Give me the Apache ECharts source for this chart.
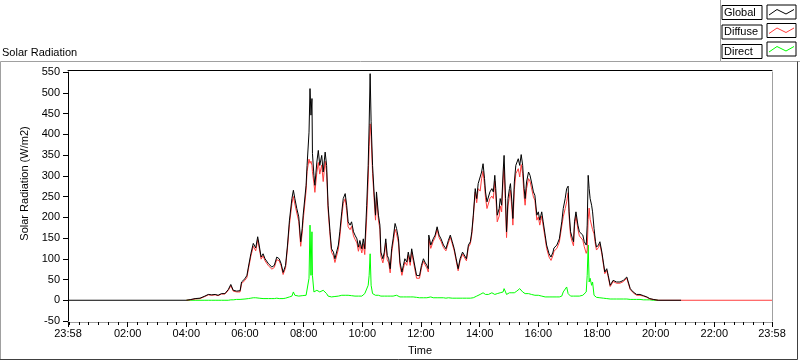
<!DOCTYPE html>
<html><head><meta charset="utf-8">
<script src="https://cdn.jsdelivr.net/npm/echarts@6.0.0/dist/echarts.min.js"></script>
<style>html,body{margin:0;padding:0;background:#fff}#c{width:800px;height:361px}</style>
</head><body><div id="c"></div>
<script>
// time in minutes from 00:00 (23:58 of the previous day = -2)
const times = [
-2,240,248,258,268,278,285,292,299,305,
312,319,326,331,336,343,350,353,360,364,
367,372,377,382,386,389,393,397,401,408,
415,420,425,430,434,438,443,447,451,456,
459,462,466,470,474,477,479,485,487,491,
493,495,497,498,501,503,507,510,513,517,
520,524,527,530,534,537,541,544,548,551,
554,558,561,565,568,571,575,578,582,585,
589,592,595,599,602,605,609,612,614,616,
618,621,624,627,629,633,636,638,642,645,
648,651,654,657,660,663,667,670,674,677,
681,684,687,691,694,698,701,704,708,711,
717,721,725,728,732,735,736,740,745,749,
753,757,761,766,771,776,780,784,788,792,
796,800,805,809,813,817,821,824,827,831,
834,837,841,844,847,850,852,855,858,861,
865,868,871,873,876,880,882,885,888,890,
893,895,898,901,903,906,908,911,914,916,
919,922,925,928,931,933,936,940,943,946,
950,953,957,960,963,967,970,974,977,982,
986,990,992,998,1003,1008,1011,1015,1018,1021,
1023,1026,1030,1032,1034,1037,1041,1044,1047,1051,
1054,1058,1060,1062,1064,1066,1069,1071,1074,1077,
1079,1083,1086,1090,1093,1096,1100,1103,1107,1110,
1113,1120,1127,1134,1141,1144,1148,1154,1161,1168,
1175,1182,1188,1195,1205,1252,1438
];
const globalVals = [
0,0,1.5,4,5,10,14,13,14,12,
16,16,26,38,24,22,23,44,52,60,
80,112,137,126,153,133,104,112,100,88,
80,84,104,100,88,67,84,133,193,245,
265,245,221,201,141,173,205,277,325,405,
510,446,486,354,301,277,333,361,325,349,
309,357,325,229,165,124,116,100,104,133,
165,213,245,257,229,189,181,189,165,157,
148,128,144,124,148,124,229,325,422,546,
430,325,261,205,261,205,181,116,100,116,
148,108,100,76,124,148,185,173,148,92,
68,84,100,92,116,92,124,104,100,60,
59,84,100,92,84,76,157,133,148,157,
177,157,148,133,124,144,157,141,124,100,
76,100,116,112,100,133,141,165,205,269,
245,281,277,309,329,293,261,237,233,261,
269,261,301,269,205,221,245,229,309,349,
245,165,245,269,281,237,197,285,325,325,
341,325,351,325,269,245,285,309,301,285,
261,253,205,213,193,213,189,157,133,112,
104,116,126,133,148,189,221,245,269,275,
213,165,148,141,189,213,181,165,165,157,
141,133,181,301,269,245,229,213,173,141,
128,133,141,116,92,68,76,60,36,40,
48,44,44,48,56,44,28,20,14,14,
11,8,4,2,0,0,null
];
const diffuseVals = [
null,0,1,3,4,9,13,12,13,11,
15,15,24,35,22,20,20,40,48,55,
75,106,130,119,146,127,99,107,95,83,
75,79,98,95,83,62,78,126,183,233,
250,232,210,190,130,162,192,264,310,340,
330,335,325,310,282,260,308,332,304,326,
286,335,308,218,156,116,107,91,94,123,
153,201,233,245,217,177,170,178,155,147,
138,118,134,114,136,110,200,290,370,425,
395,305,247,193,249,193,171,106,90,106,
138,98,90,66,114,138,171,161,138,84,
60,76,92,84,108,84,116,96,92,53,
53,78,94,86,78,68,147,125,142,151,
171,151,142,127,119,138,152,136,119,95,
71,95,111,107,95,128,136,159,199,261,
235,269,263,293,311,277,247,221,219,245,
251,245,287,253,189,203,227,213,289,321,
225,151,227,251,265,219,181,267,305,303,
317,297,327,305,251,229,269,293,287,271,
249,241,193,201,181,203,179,149,125,104,
96,108,118,125,140,179,201,221,237,259,
201,155,138,131,179,203,171,155,155,145,
129,113,121,195,222,195,192,170,160,133,
121,127,135,111,87,64,72,56,33,37,
45,41,41,45,53,41,26,18,12,12,
10,7,3,2,0,0,0
];
const directVals = [
null,0,0,0,0,0,0,0,0,0,
0,0,0,1,1,2,2,3,3,4,
4,5,6,6,6,5,4,4,4,4,
4,4,5,4,4,4,5,6,8,10,
20,12,10,10,10,11,12,12,14,53,
181,60,165,60,20,16,24,28,20,22,
24,20,16,10,8,8,9,9,10,10,
12,12,12,12,12,12,11,11,10,10,
10,10,10,10,12,16,16,36,60,112,
36,16,14,12,12,12,10,10,10,10,
10,10,10,10,10,10,14,12,10,8,
8,8,8,8,8,8,8,8,8,7,
6,6,6,6,6,8,10,8,6,6,
6,6,6,6,5,6,5,5,5,5,
5,5,5,5,5,5,5,6,6,8,
10,12,14,16,18,16,14,16,14,16,
18,16,14,16,16,18,18,16,20,28,
20,14,18,18,16,18,16,18,20,22,
24,28,24,20,18,16,16,16,14,14,
12,12,12,12,12,10,10,8,8,8,
8,8,8,8,8,10,20,24,32,16,
12,10,10,10,10,10,10,10,10,12,
12,20,60,133,44,53,36,44,12,8,
7,6,6,5,5,4,4,4,3,3,
3,3,3,3,3,3,2,2,2,2,
1,1,1,0,0,null,null
];
const xTickValues = [-2,120,240,360,480,600,720,840,960,1080,1200,1320,1438];
const xTickLabels = ['23:58','02:00','04:00','06:00','08:00','10:00','12:00','14:00','16:00','18:00','20:00','22:00','23:58'];
const minorTickValues = [];
for (let m = 0; m < 1440; m += 20) minorTickValues.push(m);
const seriesNames = ['Global','Diffuse','Direct'];
const seriesColors = {Global:'#000000', Diffuse:'#ff3c3c', Direct:'#00ff00'};

const FONT = 'Liberation Sans';
const zip = vals => times.map((t, i) => [t, vals[i]]);
const lineSeries = (name, vals) => ({
  name, type:'line', data: zip(vals), symbol:'none', showSymbol:false,
  xAxisIndex:0, yAxisIndex:0, connectNulls:false,
  lineStyle:{color:seriesColors[name], width:1}, itemStyle:{color:seriesColors[name]},
  emphasis:{disabled:true}, animation:false
});

// legend sample boxes (frame + zig-zag line sample in the series colour)
const legTop = 5, legPitch = 18.5, boxX = 767;
const legendSamples = [];
seriesNames.forEach((n, i) => {
  const y0 = legTop + i * legPitch;
  legendSamples.push({type:'rect', silent:true, z:100,
    shape:{x:boxX, y:y0, width:29, height:14},
    style:{fill:'#fff', stroke:'#000', lineWidth:1}});
  legendSamples.push({type:'polyline', silent:true, z:101,
    shape:{points:[[boxX+2, y0+10],[boxX+10, y0+4.5],[boxX+19, y0+9],[boxX+27, y0+4.5]]},
    style:{fill:null, stroke:seriesColors[n], lineWidth:1}});
});

const chart = echarts.init(document.getElementById('c'), null, {renderer:'canvas'});
chart.setOption({
  animation:false,
  backgroundColor:'#ffffff',
  title:{text:'Solar Radiation', left:2, top:47, padding:0,
    textStyle:{fontSize:11, fontWeight:'normal', fontFamily:FONT, color:'#000'}},
  grid:{left:68, right:28, top:72, bottom:40, containLabel:false},
  legend:{
    data:seriesNames, orient:'vertical', right:4, top:legTop, padding:0,
    itemGap:4.5, itemWidth:29, itemHeight:14, align:'right', selectedMode:false,
    icon:'rect', itemStyle:{opacity:0},
    formatter: n => '{b|' + n + '}',
    textStyle:{rich:{b:{width:36, height:12, lineHeight:12, padding:[1,2,1,2],
      borderColor:'#000', borderWidth:1, align:'left', fontSize:11, fontFamily:FONT, color:'#000'}}}
  },
  xAxis:[
    {type:'value', min:-2, max:1438, position:'bottom', offset:1,
      axisLine:{show:true, onZero:false, lineStyle:{color:'#a0a0a0'}},
      axisTick:{show:true, customValues:xTickValues, length:5, lineStyle:{color:'#000'}},
      axisLabel:{show:true, customValues:xTickValues, margin:6, fontSize:11, fontFamily:FONT, color:'#000',
        formatter: v => { const k = xTickValues.indexOf(v); return k >= 0 ? xTickLabels[k] : ''; }},
      splitLine:{show:false},
      name:'Time', nameLocation:'middle', nameGap:23,
      nameTextStyle:{fontSize:11, fontFamily:FONT, color:'#000'}},
    {type:'value', min:-2, max:1438, position:'bottom', offset:1,
      axisLine:{show:false, onZero:false},
      axisTick:{show:true, customValues:minorTickValues, length:3, lineStyle:{color:'#000'}},
      axisLabel:{show:false}, splitLine:{show:false}},
    {type:'value', min:-2, max:1438, position:'top', offset:2,
      axisLine:{show:true, onZero:false, lineStyle:{color:'#000'}},
      axisTick:{show:false}, axisLabel:{show:false}, splitLine:{show:false}}
  ],
  yAxis:[
    {type:'value', min:-50, max:550, interval:50, position:'left',
      axisLine:{show:true, onZero:false, lineStyle:{color:'#000'}},
      axisTick:{show:true, length:5, lineStyle:{color:'#000'}},
      axisLabel:{margin:8, fontSize:11, fontFamily:FONT, color:'#000'},
      splitLine:{show:false},
      name:'Solar Radiation (W/m2)', nameLocation:'middle', nameGap:30,
      nameTextStyle:{fontSize:11, fontFamily:FONT, color:'#000', padding:[0,0,0,26]}},
    {type:'value', min:-50, max:550, interval:50, position:'right',
      axisLine:{show:true, onZero:false, lineStyle:{color:'#a0a0a0'}},
      axisTick:{show:false}, axisLabel:{show:false}, splitLine:{show:false}}
  ],
  series:[
    lineSeries('Direct', directVals),
    lineSeries('Diffuse', diffuseVals),
    lineSeries('Global', globalVals)
  ],
  graphic:[
    {type:'polyline', silent:true, shape:{points:[[0.5,360],[0.5,61.5],[720.5,61.5],[720.5,0]]},
      style:{stroke:'#a0a0a0', lineWidth:1, fill:null}},
    {type:'line', silent:true, shape:{x1:720.5, y1:61.5, x2:800, y2:61.5},
      style:{stroke:'#a0a0a0', lineWidth:1}},
    {type:'polyline', silent:true, shape:{points:[[0,359.5],[797.5,359.5],[797.5,61.5]]},
      style:{stroke:'#404040', lineWidth:1, fill:null}}
  ].concat(legendSamples)
});
</script></body></html>
